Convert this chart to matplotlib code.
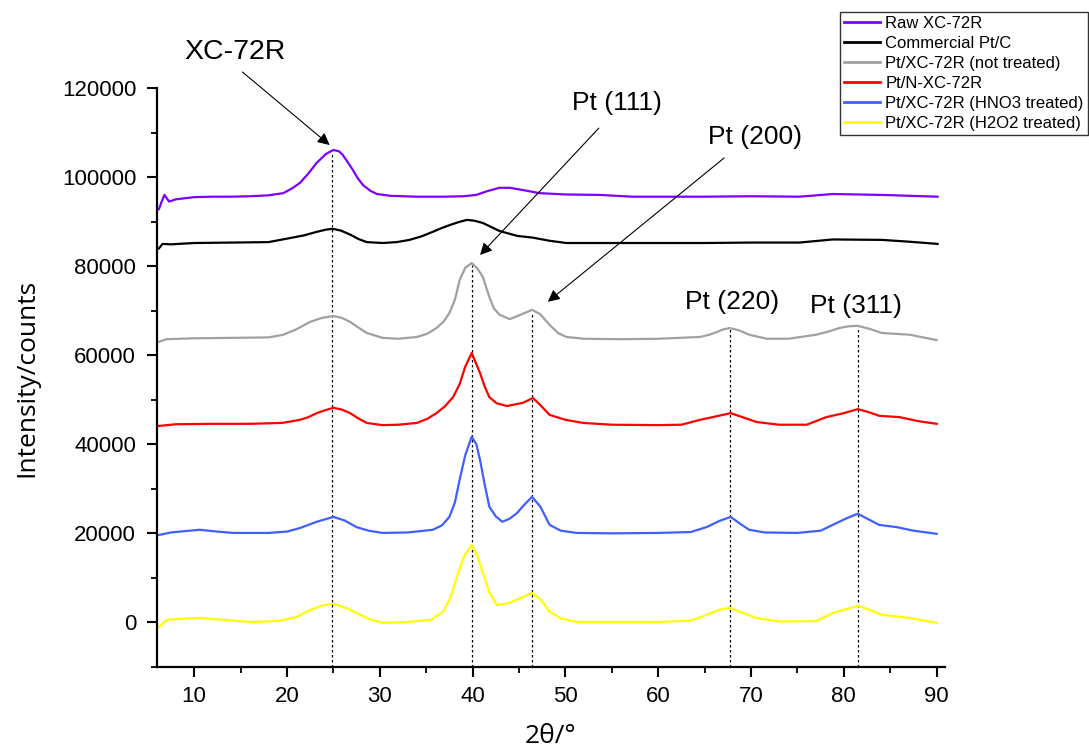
import numpy as np
import matplotlib
matplotlib.use("Agg")
import matplotlib.pyplot as plt
from matplotlib.ticker import MultipleLocator

plt.rcParams['font.family'] = ['Liberation Sans', 'DejaVu Sans']

# values, intensity in thousands of counts
raw_x = [6.2, 6.5, 6.8, 7.3, 8.0, 10, 12, 14, 16, 18, 19.6, 20.5, 21.4, 22.3, 23.2, 24.2, 25.0, 25.6,
         26.0, 26.5, 27.1, 27.6, 28.2, 29.0, 29.7, 31.1, 34, 37, 39, 40.4, 41.5, 42.9, 44.0, 45.4, 47.2,
         50, 53.7, 57.2, 60, 65, 70, 75.2, 78.8, 84.1, 87, 90.1]
raw_y = [92.8, 94.5, 96.0, 94.5, 95.0, 95.5, 95.6, 95.6, 95.7, 95.9, 96.4, 97.4, 98.7, 100.8, 103.2, 105.2,
         106.1, 105.8, 105.0, 103.5, 101.6, 99.8, 98.2, 96.9, 96.2, 95.8, 95.6, 95.6, 95.7, 96.0, 96.8, 97.6,
         97.6, 97.1, 96.4, 96.1, 96.0, 95.6, 95.6, 95.6, 95.7, 95.6, 96.2, 96.0, 95.8, 95.6]

com_x = [6.2, 6.6, 7.5, 10, 14, 18, 20.3, 21.8, 23.2, 24.2, 24.9, 25.8, 26.8, 27.7, 28.6, 30.3, 31.8, 33.2,
         34.5, 35.7, 36.6, 37.5, 38.5, 39.4, 40.2, 41.1, 42.0, 42.9, 44.8, 46.5, 48.3, 50.1, 55, 60, 65, 70,
         75.2, 78.8, 84.1, 87, 90.1]
com_y = [84.0, 85.0, 84.9, 85.2, 85.3, 85.4, 86.3, 86.9, 87.7, 88.2, 88.4, 88.0, 87.1, 86.1, 85.4, 85.2, 85.4,
         85.9, 86.7, 87.7, 88.5, 89.2, 89.9, 90.4, 90.2, 89.7, 88.8, 87.9, 86.8, 86.4, 85.7, 85.2, 85.2, 85.2,
         85.2, 85.3, 85.3, 86.0, 85.9, 85.5, 85.0]

nt_x = [6.2, 7, 10, 14, 18, 19.6, 21.0, 22.5, 23.8, 25.0, 25.9, 26.8, 27.7, 28.6, 30.3, 32, 34.0, 35.1, 36.1,
        36.9, 37.5, 38.1, 38.6, 39.2, 39.9, 40.5, 41.1, 41.8, 42.3, 42.9, 44.0, 45.3, 46.4, 47.3, 48.3, 49.2,
        50.1, 52, 56, 60, 64.5, 65.5, 66.3, 67.0, 67.7, 68.7, 69.8, 71.7, 74, 77.0, 78.3, 79.5, 80.5, 81.5,
        82.8, 84.1, 87.1, 90.0]
nt_y = [63.0, 63.6, 63.8, 63.9, 64.0, 64.6, 65.8, 67.5, 68.4, 68.8, 68.4, 67.5, 66.2, 65.0, 63.9, 63.7, 64.1,
        64.8, 66.1, 67.6, 69.5, 72.5, 76.9, 79.6, 80.7, 79.5, 77.6, 73.1, 70.5, 69.1, 68.1, 69.2, 70.2, 69.2,
        66.8, 65.0, 64.1, 63.7, 63.6, 63.7, 64.1, 64.6, 65.2, 65.8, 66.1, 65.6, 64.6, 63.7, 63.7, 64.6, 65.3,
        66.1, 66.5, 66.6, 65.9, 65.0, 64.6, 63.4]

n_x = [6.1, 8, 12, 16, 19.5, 21.4, 22.3, 23.2, 24.2, 25.0, 25.9, 26.8, 27.7, 28.6, 30.3, 32, 34.0, 35.1, 36.1,
       37.0, 37.9, 38.6, 39.2, 39.9, 40.3, 40.8, 41.3, 41.8, 42.6, 43.7, 45.4, 46.5, 47.3, 48.3, 50, 51.9, 55,
       60, 62.5, 64.5, 66.3, 67.8, 69.2, 70.6, 73, 76, 78.1, 80, 81.5, 82.7, 83.8, 86.0, 88, 90.0]
n_y = [44.1, 44.5, 44.6, 44.6, 44.8, 45.5, 46.1, 47.0, 47.7, 48.2, 47.8, 47.0, 45.8, 44.8, 44.3, 44.4, 44.8,
       45.7, 47.0, 48.5, 50.6, 53.5, 57.4, 60.5, 58.5, 56.0, 53.0, 50.6, 49.2, 48.6, 49.3, 50.4, 48.8, 46.6,
       45.5, 44.8, 44.4, 44.3, 44.4, 45.5, 46.3, 47.0, 46.0, 45.0, 44.4, 44.4, 46.1, 47.0, 47.9, 47.2, 46.4,
       46.1, 45.2, 44.6]

hno3_x = [6.1, 7.5, 9, 10.6, 12.5, 14.2, 18, 20, 21.4, 23.2, 25.0, 26.2, 27.5, 28.8, 30.3, 33, 35.7, 36.7,
          37.5, 38.1, 38.6, 39.2, 39.9, 40.4, 40.8, 41.3, 41.8, 42.5, 43.2, 44.0, 44.8, 45.6, 46.4, 47.3, 48.3,
          49.5, 51.2, 55, 60, 63.5, 65.2, 66.6, 67.8, 68.8, 69.8, 71.5, 75, 77.5, 78.8, 80.3, 81.5, 82.6, 83.8,
          85.7, 87.5, 90.0]
hno3_y = [19.6, 20.2, 20.5, 20.8, 20.4, 20.1, 20.1, 20.4, 21.2, 22.6, 23.7, 22.9, 21.4, 20.6, 20.1, 20.2, 20.8,
          21.8, 23.7, 27.0, 32.0, 37.5, 41.7, 40.0, 36.5, 31.0, 26.0, 23.8, 22.6, 23.3, 24.6, 26.5, 28.2, 26.0,
          21.9, 20.6, 20.1, 20.0, 20.1, 20.3, 21.4, 22.8, 23.7, 22.2, 20.8, 20.2, 20.1, 20.6, 21.9, 23.4, 24.4,
          23.2, 21.9, 21.4, 20.6, 19.9]

h2o2_x = [6.1, 6.6, 7.1, 8.5, 10.6, 13, 16, 19, 21, 22.5, 23.8, 25.0, 26.2, 27.5, 28.8, 30.3, 33, 35.5, 36.8,
          37.6, 38.3, 39.1, 39.9, 40.5, 41.1, 41.8, 42.6, 44.0, 45.3, 46.4, 47.3, 48.3, 49.5, 51.2, 55, 60,
          63.5, 65.2, 66.5, 67.7, 69.0, 70.6, 73, 77, 78.8, 80.3, 81.5, 82.8, 84.1, 87.1, 90.0]
h2o2_y = [-1.2, -0.3, 0.6, 0.8, 1.0, 0.6, 0.1, 0.3, 1.2, 2.8, 3.8, 4.2, 3.4, 2.1, 0.8, -0.1, 0.1, 0.6, 2.4,
          5.5, 10.2, 15.0, 17.4, 15.0, 11.1, 6.8, 3.9, 4.4, 5.6, 6.6, 5.2, 2.4, 0.9, 0.1, 0.1, 0.1, 0.4, 1.7,
          2.8, 3.3, 2.2, 1.0, 0.2, 0.3, 2.1, 3.0, 3.7, 2.8, 1.7, 1.0, -0.1]

labels = ['Raw XC-72R', 'Commercial Pt/C', 'Pt/XC-72R (not treated)', 'Pt/N-XC-72R',
          'Pt/XC-72R (HNO3 treated)', 'Pt/XC-72R (H2O2 treated)']
colors = ['#7f00ff', '#000000', '#a0a0a0', '#ff0000', '#3f5fff', '#ffff00']
series = [(raw_x, raw_y), (com_x, com_y), (nt_x, nt_y), (n_x, n_y), (hno3_x, hno3_y), (h2o2_x, h2o2_y)]

# reference lines: position and the peak height they reach (thousands)
ref_pos = [24.9, 39.9, 46.4, 67.7, 81.5]
ref_top = [105.6, 80.3, 69.5, 66.1, 66.3]

fig = plt.figure(figsize=(10.89, 7.55), dpi=100)
ax = fig.add_axes([0.1442, 0.1166, 0.7236, 0.7668])

for (xs, ys), lab, c in zip(series, labels, colors):
    ax.plot(xs, np.array(ys) * 1000, color=c, lw=1.6, label=lab)

for p, t in zip(ref_pos, ref_top):
    ax.plot([p, p], [-10000, t * 1000], color='black', lw=0.9, ls=(0, (2, 2)), zorder=1)

ax.set_xlim(6, 90.9)
ax.set_ylim(-10000, 120000)
ax.xaxis.set_major_locator(MultipleLocator(10))
ax.xaxis.set_minor_locator(MultipleLocator(5))
ax.yaxis.set_major_locator(MultipleLocator(20000))
ax.yaxis.set_minor_locator(MultipleLocator(10000))
ax.spines['top'].set_visible(False)
ax.spines['right'].set_visible(False)
for s in ['left', 'bottom']:
    ax.spines[s].set_linewidth(1.6)
ax.tick_params(which='major', direction='out', length=7, width=1.5, labelsize=16)
ax.tick_params(axis='y', which='major', pad=8)
ax.tick_params(axis='x', which='major', pad=7)
ax.tick_params(which='minor', direction='out', length=4, width=1.3)

ax.set_xlabel('2θ/°', fontsize=19, family=['Open Sans', 'DejaVu Sans'], labelpad=12)
ax.set_ylabel('Intensity/counts', fontsize=19, family=['Open Sans', 'DejaVu Sans'], labelpad=16)

arrow = dict(arrowstyle='-|>', color='black', lw=0.8, mutation_scale=18, shrinkA=0, shrinkB=0)
ax.text(14.4, 128100, 'XC-72R', fontsize=20.5, ha='center', va='center', clip_on=False)
ax.annotate('', xy=(24.6, 107200), xytext=(15.2, 123600), arrowprops=arrow, annotation_clip=False)
ax.text(55.5, 116600, 'Pt (111)', fontsize=19, ha='center', va='center')
ax.annotate('', xy=(40.8, 82500), xytext=(53.6, 111000), arrowprops=arrow)
ax.text(70.4, 109000, 'Pt (200)', fontsize=19, ha='center', va='center')
ax.annotate('', xy=(48.1, 72000), xytext=(67.1, 104300), arrowprops=arrow)
ax.text(68.0, 72000, 'Pt (220)', fontsize=19, ha='center', va='center')
ax.text(81.35, 71100, 'Pt (311)', fontsize=19, ha='center', va='center')

leg = fig.legend(loc='upper right', bbox_to_anchor=(0.999, 0.984), fontsize=12, frameon=True,
                 fancybox=False, edgecolor='black', borderpad=0.25, handlelength=2.2,
                 handletextpad=0.3, labelspacing=0.3, borderaxespad=0)
leg.get_frame().set_linewidth(1.0)
for h in leg.get_lines():
    h.set_linewidth(2)

fig.savefig('out.png', dpi=100)
